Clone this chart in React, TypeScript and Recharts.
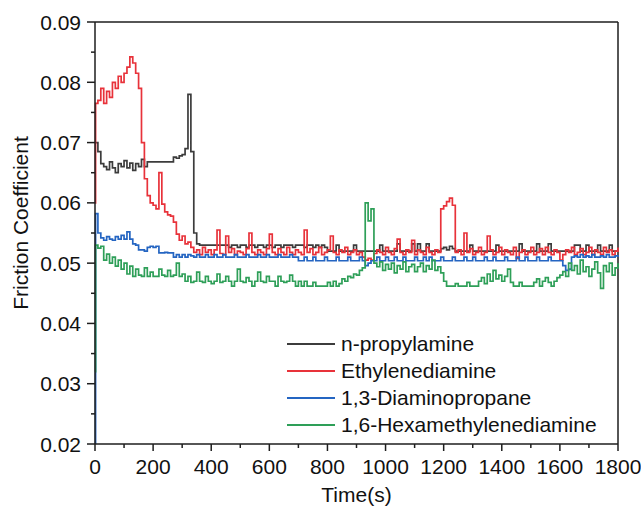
import React from 'react';
import { LineChart, Line, XAxis, YAxis, ReferenceLine, Legend } from 'recharts';

// time grid: 0 s, 2 s, then every 10 s up to 1800 s
const TIMES = [0, 2, ...Array.from({ length: 180 }, (_, i) => (i + 1) * 10)];

const X_TICKS = [0, 100, 200, 300, 400, 500, 600, 700, 800, 900, 1000, 1100, 1200, 1300, 1400, 1500, 1600, 1700, 1800];
const Y_TICKS = [0.02, 0.025, 0.03, 0.035, 0.04, 0.045, 0.05, 0.055, 0.06, 0.065, 0.07, 0.075, 0.08, 0.085, 0.09];

const NAMES = ['n-propylamine', 'Ethylenediamine', '1,3-Diaminopropane', '1,6-Hexamethylenediamine'];
const COLORS = ['#3c3c3c', '#e8323a', '#2465c2', '#2e9f58'];

const propylamine = [
  0.0700, 0.0700,
  0.0685, 0.0665, 0.0660, 0.0655, 0.0668, 0.0658, 0.0650, 0.0665, 0.0660, 0.0670,
  0.0658, 0.0666, 0.0654, 0.0665, 0.0660, 0.0672, 0.0660, 0.0668, 0.0668, 0.0668,
  0.0668, 0.0668, 0.0668, 0.0668, 0.0668, 0.0668, 0.0676, 0.0674, 0.0678, 0.0680,
  0.0690, 0.0780, 0.0685, 0.0550, 0.0532, 0.0530, 0.0530, 0.0530, 0.0530, 0.0530,
  0.0530, 0.0530, 0.0530, 0.0530, 0.0530, 0.0526, 0.0530, 0.0530, 0.0526, 0.0530,
  0.0530, 0.0526, 0.0530, 0.0530, 0.0526, 0.0530, 0.0530, 0.0526, 0.0530, 0.0530,
  0.0526, 0.0530, 0.0530, 0.0526, 0.0530, 0.0530, 0.0530, 0.0526, 0.0530, 0.0530,
  0.0530, 0.0526, 0.0530, 0.0530, 0.0526, 0.0530, 0.0526, 0.0530, 0.0526, 0.0520,
  0.0520, 0.0520, 0.0530, 0.0520, 0.0520, 0.0520, 0.0520, 0.0520, 0.0530, 0.0520,
  0.0520, 0.0520, 0.0520, 0.0520, 0.0520, 0.0520, 0.0520, 0.0530, 0.0520, 0.0520,
  0.0520, 0.0520, 0.0520, 0.0532, 0.0520, 0.0520, 0.0520, 0.0520, 0.0532, 0.0520,
  0.0532, 0.0520, 0.0520, 0.0532, 0.0520, 0.0520, 0.0520, 0.0520, 0.0524, 0.0526,
  0.0522, 0.0528, 0.0524, 0.0520, 0.0520, 0.0520, 0.0520, 0.0520, 0.0530, 0.0520,
  0.0520, 0.0520, 0.0520, 0.0520, 0.0520, 0.0520, 0.0520, 0.0530, 0.0520, 0.0520,
  0.0520, 0.0520, 0.0520, 0.0520, 0.0520, 0.0532, 0.0520, 0.0520, 0.0520, 0.0520,
  0.0520, 0.0532, 0.0520, 0.0520, 0.0520, 0.0532, 0.0520, 0.0520, 0.0520, 0.0520,
  0.0520, 0.0520, 0.0520, 0.0520, 0.0530, 0.0530, 0.0520, 0.0520, 0.0530, 0.0520,
  0.0520, 0.0520, 0.0530, 0.0520, 0.0520, 0.0520, 0.0530, 0.0520, 0.0520, 0.0520,
];

const ethylenediamine = [
  0.0600, 0.0765,
  0.0770, 0.0790, 0.0765, 0.0785, 0.0775, 0.0800, 0.0790, 0.0810, 0.0800, 0.0815,
  0.0825, 0.0842, 0.0832, 0.0815, 0.0790, 0.0700, 0.0640, 0.0612, 0.0600, 0.0596,
  0.0590, 0.0650, 0.0598, 0.0585, 0.0580, 0.0578, 0.0568, 0.0548, 0.0538, 0.0545,
  0.0532, 0.0535, 0.0526, 0.0518, 0.0522, 0.0514, 0.0526, 0.0518, 0.0522, 0.0514,
  0.0522, 0.0555, 0.0516, 0.0514, 0.0545, 0.0518, 0.0524, 0.0514, 0.0520, 0.0518,
  0.0514, 0.0524, 0.0550, 0.0518, 0.0514, 0.0522, 0.0518, 0.0514, 0.0524, 0.0548,
  0.0518, 0.0514, 0.0524, 0.0518, 0.0514, 0.0526, 0.0518, 0.0514, 0.0522, 0.0518,
  0.0514, 0.0555, 0.0518, 0.0524, 0.0514, 0.0518, 0.0526, 0.0514, 0.0518, 0.0522,
  0.0545, 0.0518, 0.0514, 0.0522, 0.0518, 0.0526, 0.0514, 0.0518, 0.0522, 0.0514,
  0.0518, 0.0510, 0.0505, 0.0508, 0.0505, 0.0516, 0.0522, 0.0518, 0.0514, 0.0526,
  0.0518, 0.0514, 0.0524, 0.0540, 0.0518, 0.0514, 0.0522, 0.0518, 0.0538, 0.0514,
  0.0522, 0.0518, 0.0514, 0.0526, 0.0518, 0.0514, 0.0522, 0.0518, 0.0590, 0.0595,
  0.0602, 0.0608, 0.0596, 0.0518, 0.0522, 0.0514, 0.0550, 0.0518, 0.0524, 0.0514,
  0.0518, 0.0526, 0.0514, 0.0518, 0.0545, 0.0522, 0.0514, 0.0518, 0.0526, 0.0514,
  0.0522, 0.0518, 0.0514, 0.0526, 0.0508, 0.0518, 0.0522, 0.0514, 0.0518, 0.0526,
  0.0514, 0.0518, 0.0524, 0.0514, 0.0526, 0.0518, 0.0514, 0.0522, 0.0518, 0.0505,
  0.0514, 0.0522, 0.0518, 0.0526, 0.0514, 0.0518, 0.0524, 0.0514, 0.0518, 0.0526,
  0.0514, 0.0522, 0.0518, 0.0514, 0.0526, 0.0518, 0.0522, 0.0514, 0.0520, 0.0526,
];

const diaminopropane = [
  0.0200, 0.0582,
  0.0550, 0.0542, 0.0538, 0.0544, 0.0540, 0.0538, 0.0544, 0.0540, 0.0546, 0.0540,
  0.0552, 0.0540, 0.0532, 0.0530, 0.0522, 0.0522, 0.0520, 0.0526, 0.0528, 0.0526,
  0.0528, 0.0517, 0.0517, 0.0518, 0.0517, 0.0517, 0.0510, 0.0514, 0.0510, 0.0514,
  0.0510, 0.0514, 0.0512, 0.0510, 0.0514, 0.0510, 0.0510, 0.0514, 0.0510, 0.0510,
  0.0514, 0.0510, 0.0510, 0.0514, 0.0510, 0.0510, 0.0510, 0.0514, 0.0510, 0.0510,
  0.0510, 0.0514, 0.0510, 0.0510, 0.0510, 0.0514, 0.0510, 0.0510, 0.0514, 0.0510,
  0.0510, 0.0510, 0.0514, 0.0510, 0.0510, 0.0510, 0.0514, 0.0510, 0.0510, 0.0504,
  0.0504, 0.0510, 0.0504, 0.0504, 0.0510, 0.0504, 0.0504, 0.0504, 0.0510, 0.0504,
  0.0504, 0.0504, 0.0510, 0.0504, 0.0504, 0.0504, 0.0510, 0.0504, 0.0504, 0.0504,
  0.0510, 0.0504, 0.0496, 0.0500, 0.0504, 0.0504, 0.0510, 0.0504, 0.0504, 0.0510,
  0.0504, 0.0504, 0.0510, 0.0504, 0.0504, 0.0510, 0.0504, 0.0504, 0.0504, 0.0510,
  0.0504, 0.0504, 0.0510, 0.0504, 0.0510, 0.0504, 0.0504, 0.0504, 0.0510, 0.0504,
  0.0504, 0.0504, 0.0510, 0.0504, 0.0504, 0.0504, 0.0510, 0.0504, 0.0504, 0.0510,
  0.0504, 0.0504, 0.0504, 0.0510, 0.0504, 0.0504, 0.0510, 0.0504, 0.0504, 0.0504,
  0.0510, 0.0504, 0.0504, 0.0504, 0.0510, 0.0504, 0.0504, 0.0510, 0.0504, 0.0504,
  0.0504, 0.0510, 0.0504, 0.0504, 0.0504, 0.0510, 0.0504, 0.0504, 0.0504, 0.0504,
  0.0496, 0.0488, 0.0490, 0.0510, 0.0512, 0.0510, 0.0514, 0.0510, 0.0512, 0.0510,
  0.0514, 0.0510, 0.0510, 0.0512, 0.0510, 0.0514, 0.0510, 0.0510, 0.0512, 0.0510,
];

const hexamethylenediamine = [
  0.0320, 0.0530,
  0.0525, 0.0528, 0.0505, 0.0515, 0.0500, 0.0510, 0.0495, 0.0505, 0.0490, 0.0500,
  0.0482, 0.0495, 0.0478, 0.0490, 0.0480, 0.0478, 0.0492, 0.0478, 0.0485, 0.0478,
  0.0478, 0.0490, 0.0480, 0.0478, 0.0488, 0.0478, 0.0480, 0.0500, 0.0478, 0.0482,
  0.0470, 0.0478, 0.0468, 0.0470, 0.0485, 0.0470, 0.0468, 0.0478, 0.0470, 0.0466,
  0.0470, 0.0482, 0.0468, 0.0470, 0.0478, 0.0470, 0.0462, 0.0470, 0.0490, 0.0470,
  0.0468, 0.0476, 0.0470, 0.0462, 0.0470, 0.0485, 0.0470, 0.0468, 0.0478, 0.0470,
  0.0470, 0.0462, 0.0478, 0.0470, 0.0468, 0.0470, 0.0480, 0.0470, 0.0462, 0.0470,
  0.0462, 0.0470, 0.0462, 0.0462, 0.0468, 0.0462, 0.0462, 0.0462, 0.0462, 0.0468,
  0.0462, 0.0470, 0.0462, 0.0466, 0.0474, 0.0470, 0.0478, 0.0476, 0.0482, 0.0480,
  0.0488, 0.0492, 0.0600, 0.0570, 0.0590, 0.0500, 0.0494, 0.0502, 0.0488, 0.0498,
  0.0490, 0.0500, 0.0484, 0.0496, 0.0490, 0.0502, 0.0486, 0.0494, 0.0498, 0.0486,
  0.0494, 0.0500, 0.0486, 0.0496, 0.0490, 0.0505, 0.0488, 0.0494, 0.0484, 0.0470,
  0.0462, 0.0462, 0.0462, 0.0466, 0.0462, 0.0462, 0.0462, 0.0468, 0.0462, 0.0462,
  0.0462, 0.0470, 0.0476, 0.0466, 0.0482, 0.0470, 0.0488, 0.0474, 0.0480, 0.0470,
  0.0478, 0.0490, 0.0468, 0.0462, 0.0462, 0.0468, 0.0462, 0.0462, 0.0462, 0.0462,
  0.0468, 0.0474, 0.0462, 0.0470, 0.0476, 0.0468, 0.0462, 0.0470, 0.0476, 0.0480,
  0.0486, 0.0478, 0.0500, 0.0488, 0.0496, 0.0482, 0.0505, 0.0486, 0.0494, 0.0478,
  0.0490, 0.0502, 0.0484, 0.0458, 0.0496, 0.0486, 0.0500, 0.0480, 0.0492, 0.0500,
];

const data = TIMES.map((t, i) => ({
  t,
  a: propylamine[i],
  b: ethylenediamine[i],
  c: diaminopropane[i],
  d: hexamethylenediamine[i],
}));

const FONT = '"Liberation Sans", Arial, sans-serif';
const AXIS = '#1e1e1e';

function TimeTick({ x, y, payload }: any) {
  const major = payload.value % 200 === 0;
  return (
    <g>
      <line x1={x} x2={x} y1={y} y2={y + (major ? 7 : 4)} stroke={AXIS} strokeWidth={1.5} />
      {major && (
        <text x={x} y={y + 22} textAnchor="middle" dominantBaseline="central" fontSize={21} fontFamily={FONT} fill="#111">
          {payload.value}
        </text>
      )}
    </g>
  );
}

function CoefTick({ x, y, payload }: any) {
  const major = Math.round(payload.value * 1000) % 10 === 0;
  return (
    <g>
      <line x1={x - (major ? 8 : 4)} x2={x} y1={y} y2={y} stroke={AXIS} strokeWidth={1.5} />
      {major && (
        <text x={x - 14} y={y} textAnchor="end" dominantBaseline="central" fontSize={21} fontFamily={FONT} fill="#111">
          {payload.value.toFixed(2)}
        </text>
      )}
    </g>
  );
}

function YTitle({ viewBox }: any) {
  const cx = viewBox.x - 15;
  const cy = viewBox.y + viewBox.height / 2 - 10;
  return (
    <text
      transform={`translate(${cx}, ${cy}) rotate(-90)`}
      textAnchor="middle"
      dominantBaseline="central"
      fontSize={21}
      fontFamily={FONT}
      fill="#111"
    >
      Friction Coefficient
    </text>
  );
}

function LegendBox() {
  return (
    <div style={{ fontFamily: FONT, fontSize: 21, color: '#111' }}>
      {NAMES.map((name, i) => (
        <div key={name} style={{ display: 'flex', alignItems: 'center', height: 27, whiteSpace: 'nowrap' }}>
          <span style={{ display: 'inline-block', width: 48, borderTop: `2px solid ${COLORS[i]}`, marginRight: 6 }} />
          {name}
        </div>
      ))}
    </div>
  );
}

export default function App() {
  const keys = ['a', 'b', 'c', 'd'];
  return (
    <div style={{ position: 'absolute', left: 0, top: 0, background: '#fff' }}>
      <LineChart width={641} height={514} data={data} margin={{ top: 22, right: 23, left: 35, bottom: 40 }}>
        <XAxis
          dataKey="t"
          type="number"
          domain={[0, 1800]}
          ticks={X_TICKS}
          interval={0}
          tickSize={0}
          tickMargin={0}
          height={30}
          tick={<TimeTick />}
          axisLine={{ stroke: AXIS, strokeWidth: 1.5 }}
          label={{ value: 'Time(s)', position: 'bottom', offset: 13, fontSize: 21, fontFamily: FONT, fill: '#111' }}
        />
        <YAxis
          type="number"
          domain={[0.02, 0.09]}
          allowDataOverflow
          ticks={Y_TICKS}
          interval={0}
          tickSize={0}
          tickMargin={0}
          width={60}
          tick={<CoefTick />}
          axisLine={{ stroke: AXIS, strokeWidth: 1.5 }}
          label={{ content: <YTitle /> }}
        />
        <ReferenceLine y={0.09} stroke={AXIS} strokeWidth={1.5} />
        <ReferenceLine x={1800} stroke={AXIS} strokeWidth={1.5} />
        {keys.map((k, i) => (
          <Line
            key={k}
            dataKey={k}
            name={NAMES[i]}
            type="stepAfter"
            stroke={COLORS[i]}
            strokeWidth={1.7}
            dot={false}
            isAnimationActive={false}
          />
        ))}
        <Legend
          layout="horizontal"
          verticalAlign="middle"
          align="center"
          content={<LegendBox />}
          wrapperStyle={{ left: 287, top: 330, width: 330 }}
        />
      </LineChart>
    </div>
  );
}
